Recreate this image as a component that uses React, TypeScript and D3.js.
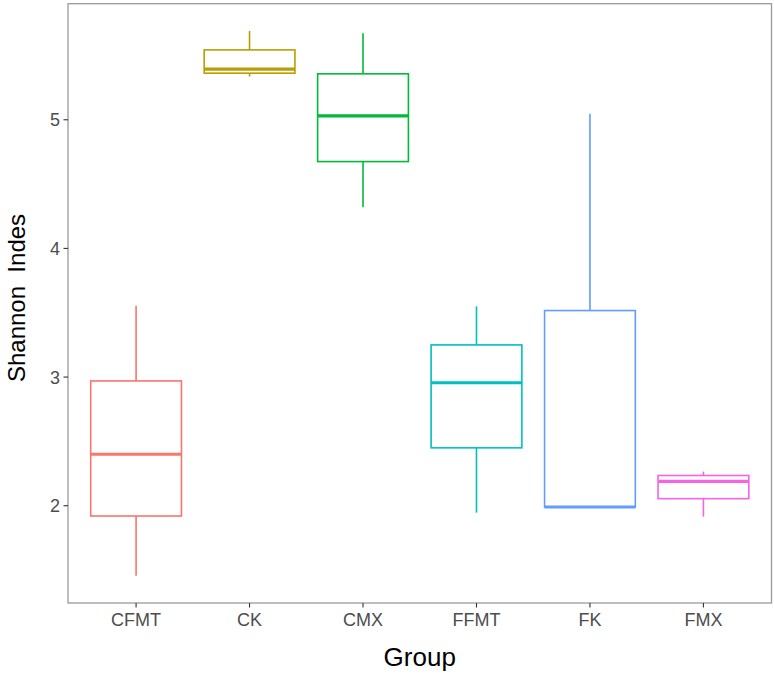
import React from "react";
import * as d3 from "d3";

const groups = ["CFMT", "CK", "CMX", "FFMT", "FK", "FMX"];
const whiskerLow = [1.456, 5.336, 4.32, 1.946, 1.99, 1.915];
const q1 = [1.92, 5.362, 4.675, 2.45, 1.99, 2.055];
const medians = [2.4, 5.393, 5.03, 2.956, 1.99, 2.19];
const q3 = [2.97, 5.543, 5.357, 3.25, 3.517, 2.235];
const whiskerHigh = [3.554, 5.69, 5.673, 3.55, 5.046, 2.265];
const colors = ["#F8766D", "#B79F00", "#00BA38", "#00BFC4", "#619CFF", "#F564E3"];
const yTicks = [2, 3, 4, 5];

const W = 774;
const H = 677;
const left = 68;
const right = 771.5;
const top = 3.7;
const bottom = 603;

export default function App() {
  // ggplot discrete axis: 0.6 step expansion on each side
  const step = (right - left) / (groups.length - 1 + 1.2);
  const x = d3
    .scalePoint<string>()
    .domain(groups)
    .range([left + 0.6 * step, right - 0.6 * step]);
  const boxW = step * 0.8;
  const y = d3.scaleLinear().domain([1.244, 5.902]).range([bottom, top]);
  const font = "'Liberation Sans', Arial, Helvetica, sans-serif";
  return (
    <svg width={W} height={H} style={{ position: "absolute", left: 0, top: 0, background: "#fff" }}>
      <rect x={left} y={top} width={right - left} height={bottom - top} fill="#fff" stroke="#9a9a9a" strokeWidth={1.3} />
      {groups.map((g, i) => {
        const c = x(g) as number;
        const col = colors[i];
        return (
          <g key={g}>
            <line x1={c} x2={c} y1={y(whiskerHigh[i])} y2={y(q3[i])} stroke={col} strokeWidth={1.6} />
            <line x1={c} x2={c} y1={y(q1[i])} y2={y(whiskerLow[i])} stroke={col} strokeWidth={1.6} />
            <rect x={c - boxW / 2} y={y(q3[i])} width={boxW} height={Math.max(0, y(q1[i]) - y(q3[i]))} fill="#fff" stroke={col} strokeWidth={1.6} />
            <line x1={c - boxW / 2} x2={c + boxW / 2} y1={y(medians[i])} y2={y(medians[i])} stroke={col} strokeWidth={3.2} />
          </g>
        );
      })}
      {yTicks.map((t) => (
        <g key={t}>
          <line x1={left - 4.5} x2={left} y1={y(t)} y2={y(t)} stroke="#333" strokeWidth={1.1} />
          <text x={left - 8} y={y(t)} dy="0.36em" textAnchor="end" fontSize={18} fill="#4d4d4d" fontFamily={font}>
            {t}
          </text>
        </g>
      ))}
      {groups.map((g) => (
        <g key={g}>
          <line x1={x(g)} x2={x(g)} y1={bottom} y2={bottom + 4.5} stroke="#333" strokeWidth={1.1} />
          <text x={x(g)} y={626} textAnchor="middle" fontSize={18} fill="#4d4d4d" fontFamily={font}>
            {g}
          </text>
        </g>
      ))}
      <text x={(left + right) / 2} y={666} textAnchor="middle" fontSize={26} fill="#000" fontFamily={font}>
        Group
      </text>
      <text
        transform={`translate(25, 298) rotate(-90)`}
        textAnchor="middle"
        fontSize={24}
        fill="#000"
        fontFamily={font}
        style={{ whiteSpace: "pre" }}
      >
        {"Shannon  Indes"}
      </text>
    </svg>
  );
}
